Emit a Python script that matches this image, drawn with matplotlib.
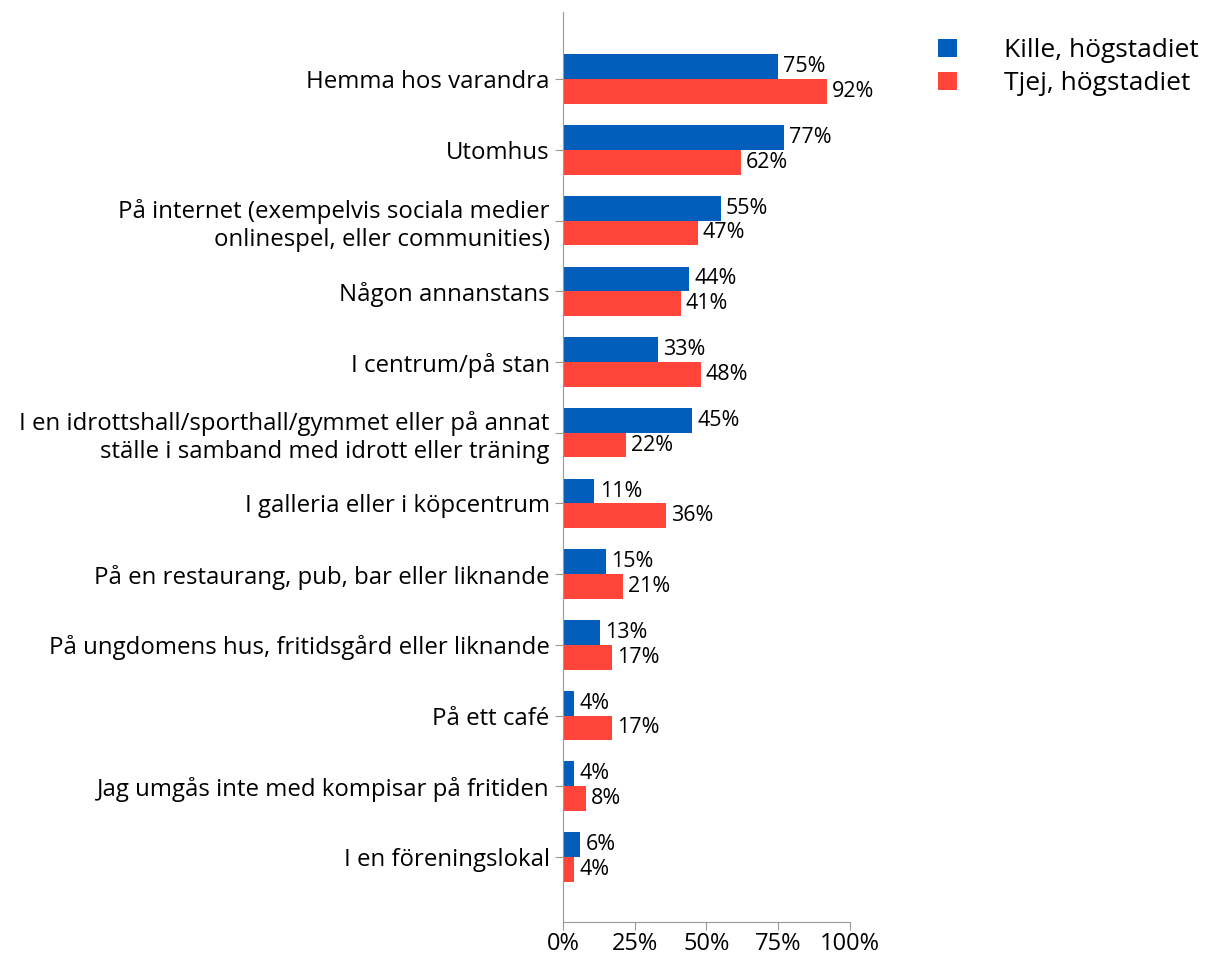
import matplotlib
matplotlib.use("Agg")
import matplotlib.pyplot as plt
import numpy as np

categories = [
    "Hemma hos varandra",
    "Utomhus",
    "På internet (exempelvis sociala medier\nonlinespel, eller communities)",
    "Någon annanstans",
    "I centrum/på stan",
    "I en idrottshall/sporthall/gymmet eller på annat\nställe i samband med idrott eller träning",
    "I galleria eller i köpcentrum",
    "På en restaurang, pub, bar eller liknande",
    "På ungdomens hus, fritidsgård eller liknande",
    "På ett café",
    "Jag umgås inte med kompisar på fritiden",
    "I en föreningslokal",
]
kille = [75, 77, 55, 44, 33, 45, 11, 15, 13, 4, 4, 6]
tjej = [92, 62, 47, 41, 48, 22, 36, 21, 17, 17, 8, 4]
series_names = ["Kille, högstadiet", "Tjej, högstadiet"]
xticks = [0, 25, 50, 75, 100]

plt.rcParams["font.family"] = ["Open Sans", "DejaVu Sans"]

fig = plt.figure(figsize=(12.08, 9.56), dpi=100)
ax = fig.add_axes([0.466, 0.0356, 0.2375, 0.9518])

y = np.arange(len(categories))
h = 0.35
b1 = ax.barh(y - h / 2, kille, height=h, color="#035DBA", label=series_names[0])
b2 = ax.barh(y + h / 2, tjej, height=h, color="#FF453A", label=series_names[1])

for bars, vals in ((b1, kille), (b2, tjej)):
    for bar, v in zip(bars, vals):
        ax.text(v + 1.8, bar.get_y() + bar.get_height() / 2, f"{v}%",
                va="center", ha="left", fontsize=15.5)

ax.set_ylim(len(categories) - 1 + 0.92, -0.95)
ax.set_xlim(0, 100)
ax.set_yticks(y)
ax.set_yticklabels(categories, fontsize=17.3, linespacing=1.2)
ax.set_xticks(xticks)
ax.set_xticklabels([f"{t}%" for t in xticks], fontsize=17)

for s in ("top", "right"):
    ax.spines[s].set_visible(False)
for s in ("left", "bottom"):
    ax.spines[s].set_color("#999999")
ax.tick_params(axis="both", color="#999999", length=6)
ax.tick_params(axis="x", pad=1)

fig.legend(handles=[b1, b2], labels=series_names, loc="upper left",
           bbox_to_anchor=(0.757, 0.985), frameon=False, fontsize=19,
           handlelength=0.7, handleheight=0.7, handletextpad=1.8,
           labelspacing=0.3)

fig.savefig("out.png", dpi=100)
